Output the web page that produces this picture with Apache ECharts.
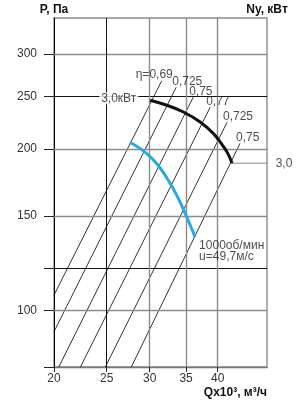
<!DOCTYPE html>
<html>
<head>
<meta charset="utf-8">
<title></title>
<script src="https://cdn.jsdelivr.net/npm/echarts@6/dist/echarts.min.js"></script>
<style>
html, body { margin: 0; padding: 0; background: #fff; }
#main { width: 297px; height: 404px; }
</style>
</head>
<body>
<div id="main"></div>
<script type="text/javascript">
// оси: Q (x10^3 м3/ч) и P (Па), обе логарифмические
var qMin = 20, qMax = 49.3;
var pMin = 78.6, pMax = 350;
var qTicks = [20, 25, 30, 35, 40];
var pLabels = [100, 150, 200, 250, 300];
var pTicks = [78.6, 100, 120, 150, 200, 250, 300];
var pGridGray = [100, 150, 200, 300];
var pGridBlack = [120, 250];
var qGridGray = [30, 35, 40];
var qGridBlack = [25];

// линии КПД: [низ, верх]
var etaNames = ['η=0,69', '0,725', '0,75', '0,77', '0,725', '0,75'];
var etaQ = [[20, 31.56], [20, 33.56], [20.41, 36.06], [22.37, 38.75], [24.86, 41.62], [27.75, 43.98]];
var etaP = [[106.9, 267.5], [91.4, 260.2], [78.6, 249.3], [78.6, 238.8], [78.6, 224.0], [78.6, 204.7]];

// характеристика 1000 об/мин
var qFan = [27.58, 29.44, 30.97, 32.46, 33.70, 34.71, 35.60, 36.36];
var pFan = [205.6, 197.0, 187.2, 174.8, 163.3, 153.1, 144.3, 137.0];
var fanText = '1000об/мин\nu=49,7м/с';

// мощность 3,0 кВт
var qPow = [30.06, 32.26, 34.60, 37.14, 39.30, 40.76, 41.80, 42.51];
var pPow = [246.1, 240.9, 234.1, 224.3, 213.4, 203.5, 195.7, 188.0];
var powText = '3,0кВт';
var powRightText = '3,0';
var qPowRight = 50.5;

var font = '"Liberation Sans", Arial, sans-serif';
var gray = '#8c8c8c';

function zip(a, b) {
    return a.map(function (v, i) { return [v, b[i]]; });
}

var series = [];

// сетка
var gridLines = [];
pGridGray.forEach(function (v) { gridLines.push({ yAxis: v, lineStyle: { color: gray, width: 1.4, type: 'solid' } }); });
pGridBlack.forEach(function (v) { gridLines.push({ yAxis: v, lineStyle: { color: '#111', width: 1, type: 'solid' } }); });
qGridGray.forEach(function (v) { gridLines.push({ xAxis: v, lineStyle: { color: gray, width: 1.4, type: 'solid' } }); });
qGridBlack.forEach(function (v) { gridLines.push({ xAxis: v, lineStyle: { color: '#111', width: 1, type: 'solid' } }); });

series.push({
    type: 'line',
    data: [],
    silent: true,
    markLine: {
        silent: true,
        symbol: 'none',
        label: { show: false },
        lineStyle: { type: 'solid' },
        data: gridLines
    }
});

etaQ.forEach(function (q, i) {
    series.push({
        type: 'line',
        data: zip(q, etaP[i]),
        showSymbol: false,
        lineStyle: { color: '#000', width: 0.8 },
        z: 3
    });
});

series.push({
    type: 'line',
    data: zip(qFan, pFan),
    smooth: 0.4,
    showSymbol: false,
    lineStyle: { color: '#2aa8e0', width: 3 },
    z: 5
});

series.push({
    type: 'line',
    data: zip(qPow, pPow),
    smooth: 0.4,
    showSymbol: false,
    lineStyle: { color: '#111', width: 3 },
    z: 5
});

var powEnd = [qPow[qPow.length - 1], pPow[pPow.length - 1]];
series.push({
    type: 'line',
    data: [powEnd, [qPowRight, powEnd[1]]],
    showSymbol: false,
    clip: false,
    lineStyle: { color: gray, width: 1 },
    z: 4
});

// подписи
var labelData = etaNames.map(function (name, i) {
    return {
        value: [etaQ[i][1], etaP[i][1]],
        label: { formatter: name, position: [i === 0 ? -26 : -4, -6], align: 'left', verticalAlign: 'middle' }
    };
});
labelData.push({
    value: [qPow[0], pPow[0]],
    label: { formatter: powText, position: [-12, -2], align: 'right', verticalAlign: 'middle',
        backgroundColor: '#fff', padding: [0, 2] }
});
labelData.push({
    value: [qFan[qFan.length - 1], pFan[pFan.length - 1]],
    label: { formatter: fanText, position: [4, 3], align: 'left', verticalAlign: 'top', lineHeight: 11 }
});
labelData.push({
    value: [qPowRight, powEnd[1]],
    label: { formatter: powRightText, position: [3, 0], align: 'left', verticalAlign: 'middle' }
});

series.push({
    type: 'scatter',
    data: labelData,
    symbolSize: 0,
    clip: false,
    silent: true,
    label: { show: true, color: '#222', fontSize: 12, fontFamily: font },
    z: 6
});

var myChart = echarts.init(document.getElementById('main'));
myChart.setOption({
    animation: false,
    grid: { left: 54, right: 30, top: 18, bottom: 37, show: true, borderColor: gray, borderWidth: 1.4 },
    xAxis: {
        type: 'log',
        min: qMin,
        max: qMax,
        name: 'Qx10³, м³/ч',
        nameLocation: 'end',
        nameGap: 0,
        nameTextStyle: { align: 'right', verticalAlign: 'top', padding: [20, 0, 0, 0],
            fontWeight: 'bold', fontSize: 12, color: '#111', fontFamily: font },
        axisLine: { lineStyle: { color: '#777', width: 1.4 } },
        axisTick: { customValues: qTicks, length: 5, lineStyle: { color: '#222' } },
        axisLabel: { customValues: qTicks, margin: 6, fontSize: 12, color: '#333', fontFamily: font,
            formatter: function (v) { return String(Math.round(v)); } },
        splitLine: { show: false }
    },
    yAxis: [{
        type: 'log',
        min: pMin,
        max: pMax,
        name: 'P, Па',
        nameLocation: 'end',
        nameGap: 8,
        nameTextStyle: { verticalAlign: 'middle', fontWeight: 'bold', fontSize: 12, color: '#111', fontFamily: font },
        axisLine: { lineStyle: { color: '#000', width: 1 } },
        axisTick: { customValues: pTicks, length: 10, lineStyle: { color: '#222' } },
        axisLabel: { customValues: pLabels, margin: 17, fontSize: 12, color: '#333', fontFamily: font,
            formatter: function (v) { return String(Math.round(v)); } },
        splitLine: { show: false }
    }, {
        type: 'value',
        position: 'right',
        min: 0,
        max: 1,
        name: 'Ny, кВт',
        nameLocation: 'end',
        nameGap: 8,
        nameTextStyle: { verticalAlign: 'middle', fontWeight: 'bold', fontSize: 12, color: '#111', fontFamily: font },
        axisLine: { show: false },
        axisTick: { show: false },
        axisLabel: { show: false },
        splitLine: { show: false }
    }],
    series: series
});
</script>
</body>
</html>
